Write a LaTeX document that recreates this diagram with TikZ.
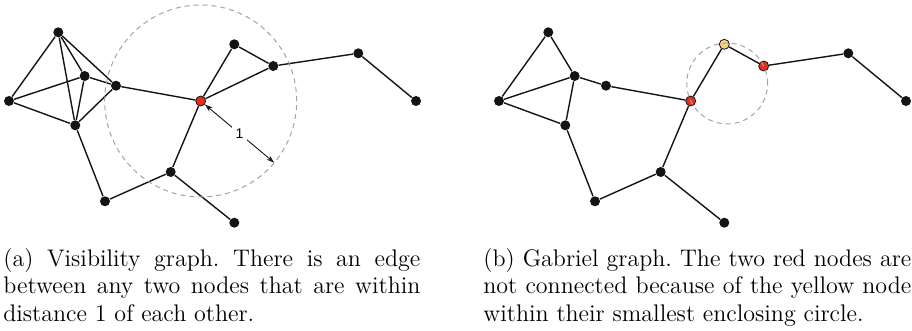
\documentclass[tikz,border=0pt]{standalone}
\usepackage{fontspec}
\newfontfamily\labelfont{Liberation Sans}
\usetikzlibrary{arrows.meta,calc}

\definecolor{vertexblack}{HTML}{141414}
\definecolor{gabrielred}{HTML}{E2301F}
\definecolor{gabrielyellow}{HTML}{F8D081}
\definecolor{rangegray}{HTML}{A3A3A3}

\begin{document}
\begin{tikzpicture}[
  x=0.5pt,
  y=-0.5pt,
  line join=round,
  vertex/.style={circle,fill=vertexblack,inner sep=0pt,minimum size=5pt},
  redvertex/.style={vertex,fill=gabrielred,draw=vertexblack,line width=0.4pt},
  yellowvertex/.style={vertex,fill=gabrielyellow,draw=vertexblack,line width=0.4pt},
  edge/.style={draw=vertexblack,line width=0.7pt},
  rangecircle/.style={draw=rangegray,line width=0.5pt,dash pattern=on 2.5pt off 2pt},
  dimline/.style={draw=vertexblack,line width=0.45pt,{Stealth[open,length=4pt,width=2.6pt]}-{Stealth[open,length=4pt,width=2.6pt]}},
  caption/.style={inner sep=0pt,anchor=north west,align=justify,font=\fontsize{12}{13.85}\selectfont\frenchspacing}
]
  % Keep the frame of the artwork.
  \useasboundingbox (0,0) rectangle (912,331);

  % Shared vertices; the right graph is the left one moved 490 to the right.
  \foreach \n/\x/\y in {a/58.3/32.3,b/9/101,c/84.7/76,d/75.3/125.3,e/116/85.7,
      i/358.3/53.3,j/416/101,k/170.7/172,l/105/201.3,m/234.3/222.7} {
    \node[vertex] (\n1) at (\x,\y) {};
    \node[vertex] (\n2) at (\x+490,\y) {};
  }
  \node[vertex] (g1) at (234.3,44.3) {};
  \node[vertex] (h1) at (273.3,66) {};
  \node[redvertex] (f1) at (200.7,101) {};
  \node[redvertex] (f2) at (690.7,101) {};
  \node[yellowvertex] (g2) at (724.3,44.3) {};
  \node[redvertex] (h2) at (763.7,66) {};

  % Visibility graph edges.
  \foreach \u/\v in {a1/b1,a1/c1,a1/d1,a1/e1,b1/c1,b1/d1,c1/d1,c1/e1,d1/e1,e1/f1,
      f1/g1,f1/h1,g1/h1,h1/i1,i1/j1,f1/k1,k1/l1,d1/l1,k1/m1} {
    \draw[edge] (\u) -- (\v);
  }

  % Gabriel graph edges.
  \foreach \u/\v in {a2/b2,a2/c2,b2/c2,b2/d2,c2/d2,c2/e2,e2/f2,f2/g2,g2/h2,h2/i2,
      i2/j2,f2/k2,k2/l2,d2/l2,k2/m2} {
    \draw[edge] (\u) -- (\v);
  }

  % Unit range around the red node, with its radius.
  \draw[rangecircle] (f1) circle[radius=48pt];
  \coordinate (rim) at ($(f1)+(40:96)$);
  \draw[dimline] (f1) -- node[fill=white,inner sep=1.8pt,font=\labelfont\fontsize{7}{8}\selectfont] (one) {1} (rim);

  % Smallest circle through the two red nodes.
  \draw[rangecircle] let \p1=($(h2)-(f2)$) in
    ($(f2)!0.5!(h2)$) circle[radius={0.5*veclen(\x1,\y1)}];

  % Sub-captions.
  \node[caption,text width=208.5pt] (capa) at (3,247.7)
    {(a) Visibility graph. There is an edge\linebreak between any two nodes that are within\linebreak distance 1 of each other.};
  \node[caption,text width=214pt] (capb) at (483,247.7)
    {(b) Gabriel graph. The two red nodes are\linebreak not connected because of the yellow node\linebreak within their smallest enclosing circle.};
\end{tikzpicture}
\end{document}
